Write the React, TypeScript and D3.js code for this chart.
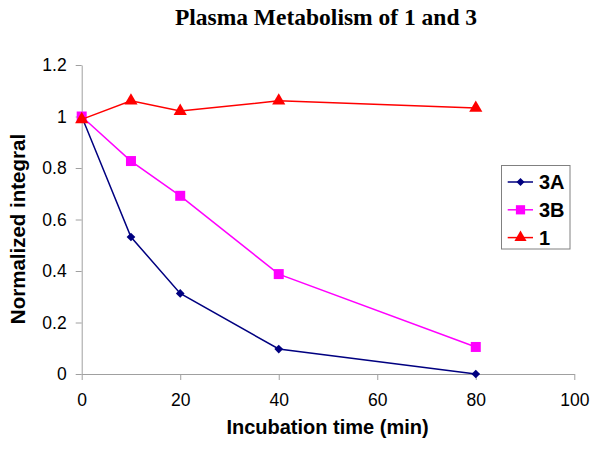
import React, { useEffect, useRef } from 'react';
import * as d3 from 'd3';

const times = [0, 10, 20, 40, 80];
const series3A = [1.0, 0.532, 0.313, 0.097, 0.0];
const series3B = [1.0, 0.827, 0.692, 0.388, 0.105];
const series1 = [0.989, 1.061, 1.021, 1.061, 1.033];
const seriesNames = ['3A', '3B', '1'];
const xTicks = [0, 20, 40, 60, 80, 100];
const yTicks = [0, 0.2, 0.4, 0.6, 0.8, 1, 1.2];

const colors = ['#000080', '#ff00ff', '#ff0000'];
// diamond is a square turned 45deg, like the old excel marker
const shapes = [d3.symbolSquare, d3.symbolSquare, d3.symbolTriangle];
const rotations = [45, 0, 0];
const sizes = [38, 100, 75];

const sans = '"Liberation Sans", Arial, sans-serif';

const App = () => {
  const ref = useRef<SVGSVGElement>(null);

  useEffect(() => {
    const svg = d3.select(ref.current);
    svg.selectAll('*').remove();

    const width = 600, height = 452;
    const x = d3.scaleLinear().domain([0, 100]).range([81.7, 574.3]);
    const y = d3.scaleLinear().domain([0, 1.2]).range([374, 65]);
    const axisColor = '#a0a0a0';

    svg.append('rect').attr('width', width).attr('height', height).attr('fill', 'white');

    // title
    svg.append('text')
      .attr('x', 326).attr('y', 25)
      .attr('text-anchor', 'middle')
      .attr('font-family', '"Liberation Serif", "Times New Roman", serif')
      .attr('font-weight', 'bold')
      .attr('font-size', 23.5)
      .text('Plasma Metabolism of 1 and 3');

    // y axis
    const yAxis = svg.append('g')
      .attr('transform', `translate(${x(0)},0)`)
      .call(d3.axisLeft(y).tickValues(yTicks).tickSize(6).tickPadding(9)
        .tickSizeOuter(0).tickFormat(d => d3.format('')(+d)));
    // x axis
    const xAxis = svg.append('g')
      .attr('transform', `translate(0,${y(0)})`)
      .call(d3.axisBottom(x).tickValues(xTicks).tickSize(6).tickPadding(14).tickSizeOuter(0));

    [yAxis, xAxis].forEach(g => {
      g.select('.domain').attr('stroke', axisColor);
      g.selectAll('.tick line').attr('stroke', axisColor);
      g.selectAll('.tick text')
        .attr('fill', '#000')
        .attr('font-family', sans)
        .attr('font-size', 17.5);
    });

    // axis titles
    svg.append('text')
      .attr('x', 327.5).attr('y', 434)
      .attr('text-anchor', 'middle')
      .attr('font-family', sans)
      .attr('font-weight', 'bold').attr('font-size', 20)
      .text('Incubation time (min)');
    svg.append('text')
      .attr('transform', `translate(25,229) rotate(-90)`)
      .attr('text-anchor', 'middle')
      .attr('font-family', sans)
      .attr('font-weight', 'bold').attr('font-size', 20.5)
      .text('Normalized integral');

    const allSeries = [series3A, series3B, series1];
    const line = d3.line<number>().x((d, i) => x(times[i])).y(d => y(d));

    allSeries.forEach((vals, s) => {
      const g = svg.append('g');
      g.append('path').datum(vals)
        .attr('d', line).attr('fill', 'none')
        .attr('stroke', colors[s]).attr('stroke-width', 1.5);
      g.selectAll('path.pt').data(vals).enter().append('path')
        .attr('class', 'pt')
        .attr('transform', (d, i) => `translate(${x(times[i])},${y(d)}) rotate(${rotations[s]})`)
        .attr('d', d3.symbol().type(shapes[s]).size(sizes[s]))
        .attr('fill', colors[s]);
    });

    // legend
    const legend = svg.append('g');
    legend.append('rect')
      .attr('x', 501.5).attr('y', 165.5).attr('width', 68.5).attr('height', 83.5)
      .attr('fill', 'white').attr('stroke', '#808080');
    seriesNames.forEach((name, s) => {
      const ly = 182 + s * 27.8;
      legend.append('line')
        .attr('x1', 507.7).attr('x2', 533).attr('y1', ly).attr('y2', ly)
        .attr('stroke', colors[s]).attr('stroke-width', 1.5);
      legend.append('path')
        .attr('transform', `translate(520.5,${ly}) rotate(${rotations[s]})`)
        .attr('d', d3.symbol().type(shapes[s]).size(sizes[s] * 0.85))
        .attr('fill', colors[s]);
      legend.append('text')
        .attr('x', 539).attr('y', ly + 7)
        .attr('font-family', sans)
        .attr('font-weight', 'bold').attr('font-size', 20)
        .text(name);
    });
  }, []);

  return (
    <svg ref={ref} width={600} height={452}
      style={{ position: 'absolute', left: 0, top: 0, display: 'block' }} />
  );
};

export default App;
